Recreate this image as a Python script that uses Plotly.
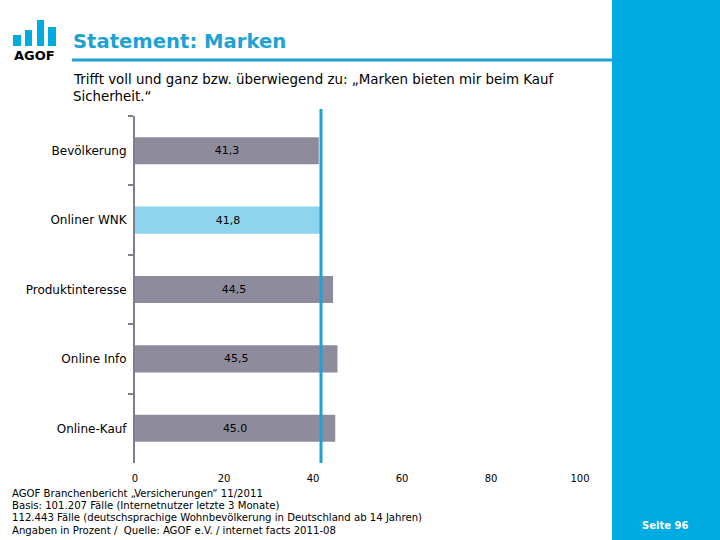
import plotly.graph_objects as go

# ---- data ----
categories = ["Bevölkerung", "Onliner WNK", "Produktinteresse", "Online Info", "Online-Kauf"]
values = [41.3, 41.8, 44.5, 45.5, 45.0]
value_labels = ["41,3", "41,8", "44,5", "45,5", "45.0"]
highlight_category = "Onliner WNK"
x_ticks = [0, 20, 40, 60, 80, 100]

title_text = "Statement: Marken"
subtitle_lines = ["Trifft voll und ganz bzw. überwiegend zu: „Marken bieten mir beim Kauf",
                  "Sicherheit.“"]
footer_lines = [
    "AGOF Branchenbericht „Versicherungen“ 11/2011",
    "Basis: 101.207 Fälle (Internetnutzer letzte 3 Monate)",
    "112.443 Fälle (deutschsprachige Wohnbevölkerung in Deutschland ab 14 Jahren)",
    "Angaben in Prozent /  Quelle: AGOF e.V. / internet facts 2011-08",
]
page_label = "Seite 96"

# ---- style ----
GRAY = "#8e8c9c"
LIGHT = "#8dd4ec"
BLUE = "#1ea2d4"
PANEL = "#00abe2"
FONT = "DejaVu Sans"

W, H = 720, 540
PL, PR, PT, PB = 135, 580, 116, 463


def px(x):
    return (x - PL) / (PR - PL)


def py(y):
    return (PB - y) / (PB - PT)


ref_value = values[categories.index(highlight_category)]
colors = [LIGHT if c == highlight_category else GRAY for c in categories]

fig = go.Figure()
fig.add_trace(go.Bar(
    y=categories, x=values, orientation="h",
    marker=dict(color=colors, line=dict(width=0)),
    width=0.39,
    text=value_labels, textposition="inside", insidetextanchor="middle",
    textangle=0, constraintext="none",
    textfont=dict(family=FONT, size=11, color="black"),
    hoverinfo="skip",
))

shapes = []
# reference line
shapes.append(dict(type="line", xref="x", yref="paper", x0=ref_value, x1=ref_value,
                   y0=py(463), y1=py(109), line=dict(color=BLUE, width=3), layer="above"))
# right panel
shapes.append(dict(type="rect", xref="paper", yref="paper", x0=px(612), x1=px(720),
                   y0=py(540), y1=py(0), fillcolor=PANEL, line=dict(width=0), layer="below"))
# title underline
shapes.append(dict(type="rect", xref="paper", yref="paper", x0=px(72), x1=px(613),
                   y0=py(61.5), y1=py(58.5), fillcolor=BLUE, line=dict(width=0)))
# logo bars
for x0, x1, top in [(13, 21, 35), (25, 32, 30), (37, 44, 20), (48, 56, 27)]:
    shapes.append(dict(type="rect", xref="paper", yref="paper", x0=px(x0), x1=px(x1),
                       y0=py(46), y1=py(top), fillcolor=PANEL, line=dict(width=0)))

annotations = []


def txt(x, y, s, size, color="black", bold=False, xanchor="left"):
    annotations.append(dict(
        x=px(x), y=py(y), xref="paper", yref="paper", text=(f"<b>{s}</b>" if bold else s),
        showarrow=False, xanchor=xanchor, yanchor="middle", align="left",
        font=dict(family=FONT, size=size, color=color)))


txt(34, 55, "AGOF", 13, bold=True, xanchor="center")
txt(71, 41, title_text, 19.6, color=BLUE, bold=True)
for i, line in enumerate(subtitle_lines):
    txt(71, 80 + i * 17, line, 13.4)
for i, line in enumerate(footer_lines):
    txt(10, 493 + i * 12.4, line, 10.15)
txt(665, 525, page_label, 10, color="white", bold=True, xanchor="center")

fig.update_layout(
    width=W, height=H,
    margin=dict(l=PL, r=W - PR, t=PT, b=H - PB, pad=0),
    paper_bgcolor="white", plot_bgcolor="white",
    showlegend=False,
    shapes=shapes, annotations=annotations,
    font=dict(family=FONT, color="black"),
    xaxis=dict(range=[0, 100], tickvals=x_ticks, ticktext=[str(v) for v in x_ticks],
               showgrid=False, zeroline=False, showline=False, ticks="",
               tickfont=dict(family=FONT, size=10, color="black"), ticklabelstandoff=8,
               fixedrange=True),
    yaxis=dict(categoryorder="array", categoryarray=categories, autorange="reversed",
               showgrid=False, zeroline=False, showline=True, linecolor="#7f7d8e", linewidth=2,
               ticks="outside", tickson="boundaries", ticklen=5, tickwidth=2, tickcolor="#7f7d8e",
               tickfont=dict(family=FONT, size=12, color="black"), ticklabelstandoff=4,
               fixedrange=True),
)

fig.write_html("out.html")
